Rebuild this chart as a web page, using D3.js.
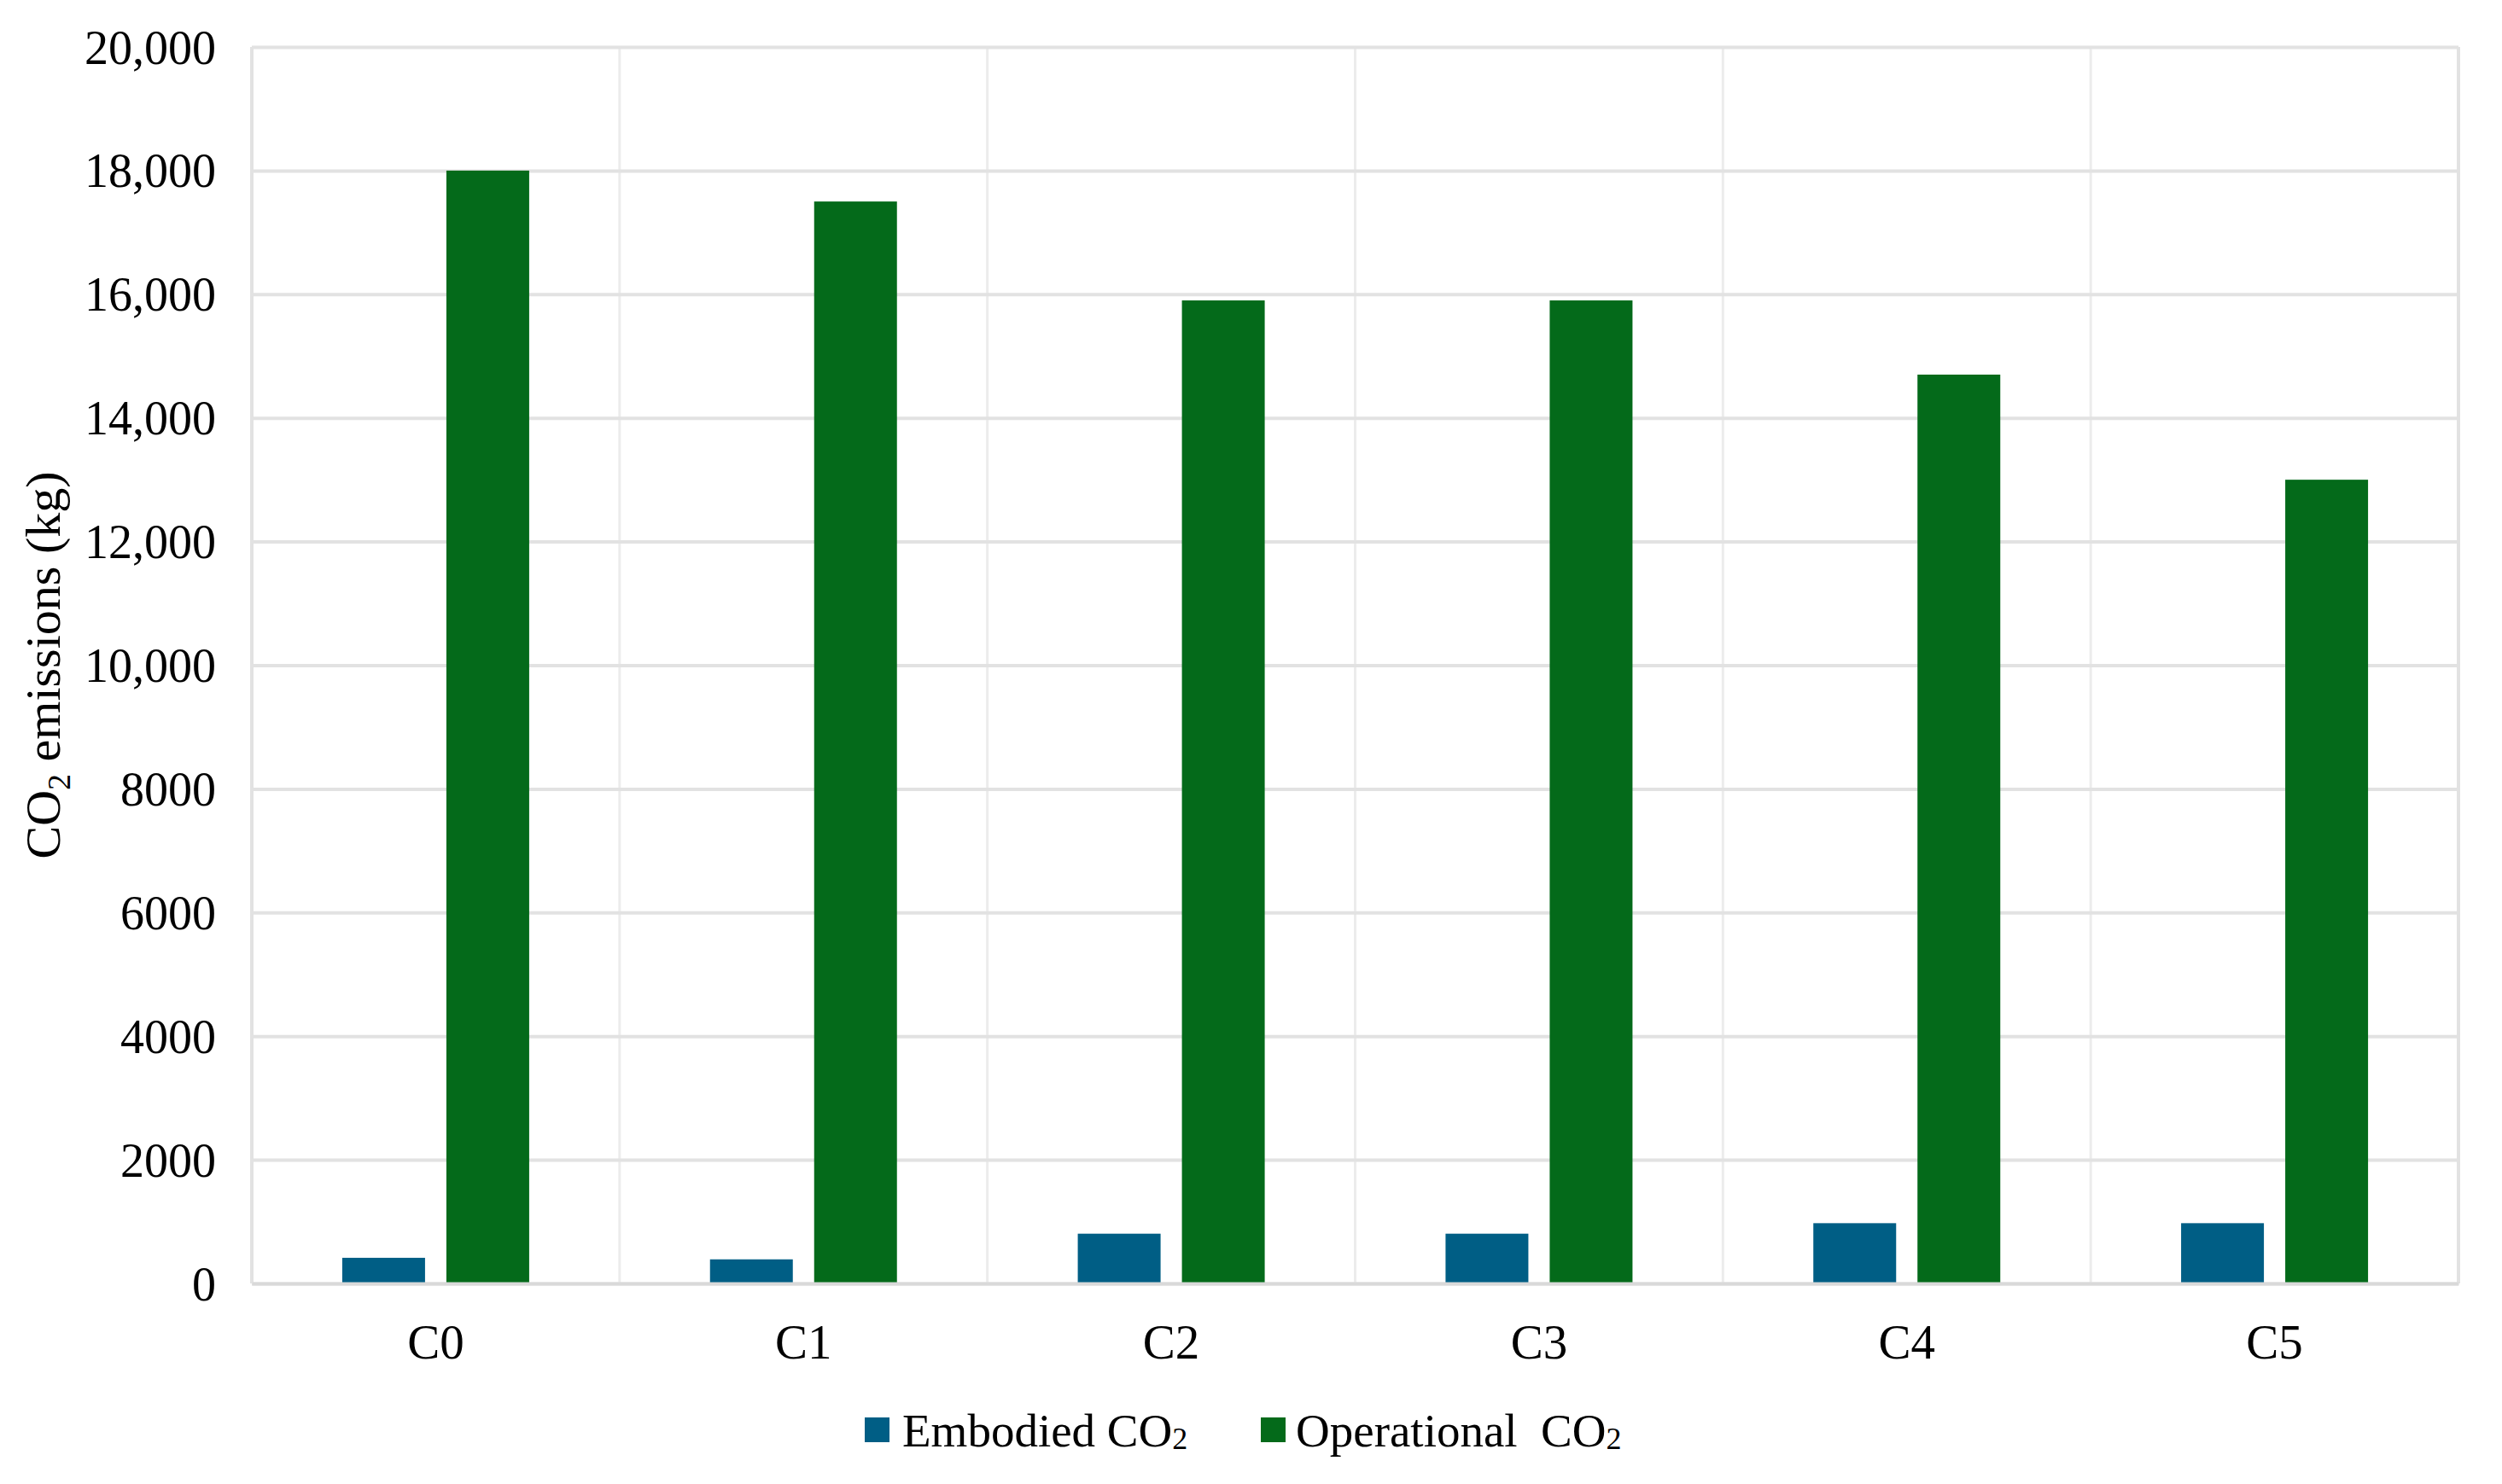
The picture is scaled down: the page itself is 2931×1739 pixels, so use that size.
<!DOCTYPE html>
<html>
<head>
<meta charset="utf-8">
<script src="https://cdn.jsdelivr.net/npm/d3@7"></script>
<style>
  html, body { margin: 0; padding: 0; background: #ffffff; }
  svg { display: block; }
  text { font-family: "Liberation Serif", "Times New Roman", serif; fill: #000; }
</style>
</head>
<body>
<svg id="chart" width="2931" height="1739"></svg>
<script>
// ---- data ----
const categories = ["C0", "C1", "C2", "C3", "C4", "C5"];
const seriesNames = ["Embodied CO", "Operational  CO"];
const seriesSub = "2";
const embodied = [415, 390, 805, 805, 975, 975];
const operational = [18000, 17500, 15900, 15900, 14700, 13000];
const yTickValues = [0, 2000, 4000, 6000, 8000, 10000, 12000, 14000, 16000, 18000, 20000];
const yTickLabels = ["0", "2000", "4000", "6000", "8000", "10,000", "12,000", "14,000", "16,000", "18,000", "20,000"];
const seriesColors = ["#005e85", "#046a1a"];

// ---- layout ----
const W = 2931, H = 1739;
const plot = { left: 295, right: 2880, top: 55, bottom: 1504 };

const svg = d3.select("#chart");
svg.append("rect").attr("width", W).attr("height", H).attr("fill", "#fff");

const x = d3.scaleBand().domain(categories).range([plot.left, plot.right]).paddingInner(0).paddingOuter(0);
const y = d3.scaleLinear().domain([0, 20000]).range([plot.bottom, plot.top]);

const groupHalf = 109.5;
const xSub = d3.scaleBand()
  .domain([0, 1])
  .range([x.bandwidth() / 2 - groupHalf, x.bandwidth() / 2 + groupHalf])
  .paddingInner(25 / 122)
  .paddingOuter(0);

// vertical gridlines at category boundaries
const boundaries = categories.map(c => x(c)).concat([plot.right]);
svg.append("g").selectAll("line").data(boundaries).join("line")
  .attr("x1", d => d).attr("x2", d => d)
  .attr("y1", plot.top).attr("y2", plot.bottom)
  .attr("stroke", (d, i) => (i === 0 || i === boundaries.length - 1) ? "#e2e2e2" : "#ececec")
  .attr("stroke-width", (d, i) => (i === 0 || i === boundaries.length - 1) ? 4 : 3);

// horizontal gridlines via axis
const yGrid = d3.axisLeft(y).tickValues(yTickValues).tickSize(-(plot.right - plot.left)).tickFormat("");
const gGrid = svg.append("g").attr("transform", `translate(${plot.left},0)`).call(yGrid);
gGrid.select(".domain").remove();
gGrid.selectAll(".tick line").attr("stroke", "#e2e2e2").attr("stroke-width", 4);

// y tick labels via axis
const yAxis = d3.axisLeft(y).tickValues(yTickValues).tickSize(0).tickPadding(0)
  .tickFormat((d, i) => yTickLabels[i]);
const gY = svg.append("g").attr("transform", `translate(253,0)`).call(yAxis);
gY.select(".domain").remove();
gY.selectAll(".tick text")
  .attr("font-size", 56)
  .attr("font-family", "Liberation Serif, Times New Roman, serif")
  .attr("fill", "#000")
  .attr("dy", "0.34em");

// bars
const groups = svg.append("g").selectAll("g").data(categories).join("g")
  .attr("transform", d => `translate(${x(d)},0)`);
groups.append("rect")
  .attr("x", xSub(0)).attr("width", xSub.bandwidth())
  .attr("y", (d, i) => y(embodied[i]))
  .attr("height", (d, i) => y(0) - y(embodied[i]))
  .attr("fill", seriesColors[0]);
groups.append("rect")
  .attr("x", xSub(1)).attr("width", xSub.bandwidth())
  .attr("y", (d, i) => y(operational[i]))
  .attr("height", (d, i) => y(0) - y(operational[i]))
  .attr("fill", seriesColors[1]);

// x axis
const xAxis = d3.axisBottom(x).tickSize(0).tickPadding(0);
const gX = svg.append("g").attr("transform", `translate(0,${plot.bottom})`).call(xAxis);
gX.select(".domain").attr("stroke", "#d9d9d9").attr("stroke-width", 4);
gX.selectAll(".tick text")
  .attr("font-size", 57)
  .attr("font-family", "Liberation Serif, Times New Roman, serif")
  .attr("fill", "#000")
  .attr("y", 88)
  .attr("dy", 0);

// y axis title
const yTitle = svg.append("text")
  .attr("transform", `translate(70,${(plot.top + plot.bottom) / 2}) rotate(-90)`)
  .attr("text-anchor", "middle")
  .attr("font-size", 58);
yTitle.append("tspan").text("CO");
yTitle.append("tspan").text("2").attr("font-size", 38).attr("dy", 12);
yTitle.append("tspan").text(" emissions (kg)").attr("dy", -12);

// legend
const legendX = [1013, 1477];
const legend = svg.append("g").selectAll("g").data(seriesNames).join("g")
  .attr("transform", (d, i) => `translate(${legendX[i]},1661)`);
legend.append("rect").attr("width", 29).attr("height", 29)
  .attr("fill", (d, i) => seriesColors[i]);
const lt = legend.append("text").attr("x", (d, i) => i === 0 ? 44 : 41).attr("y", 34)
  .attr("font-size", 55)
  .attr("xml:space", "preserve")
  .style("white-space", "pre");
lt.append("tspan").text(d => d);
lt.append("tspan").text(seriesSub).attr("font-size", 36).attr("dy", 3);
</script>
</body>
</html>
